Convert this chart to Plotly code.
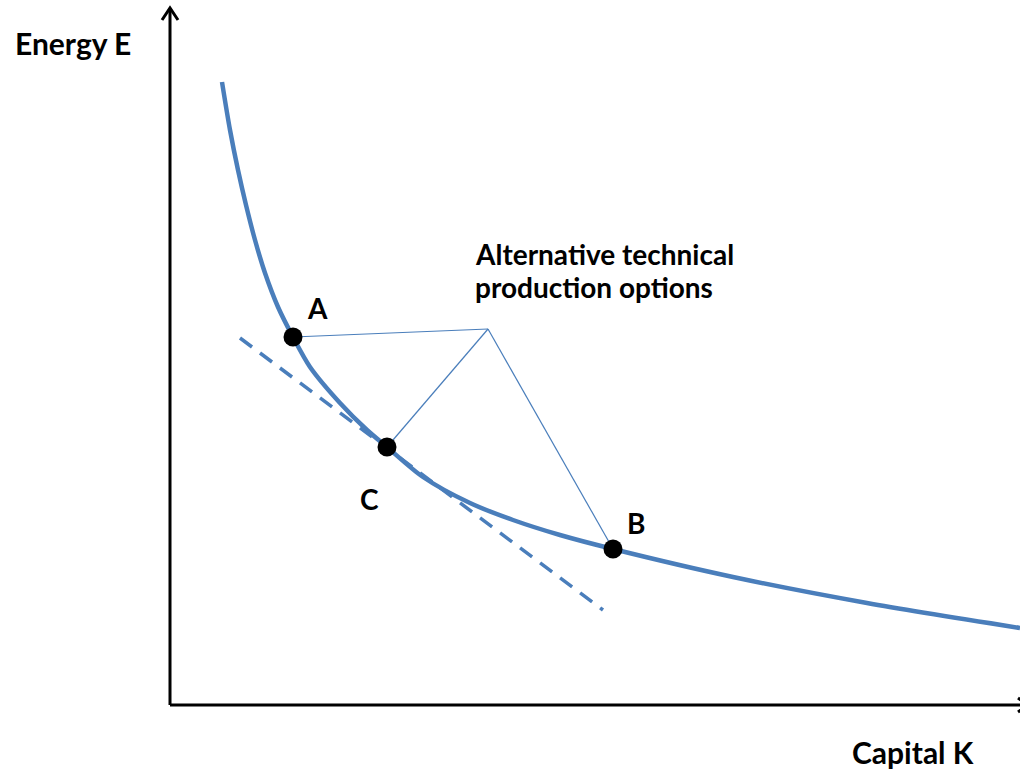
import plotly.graph_objects as go

# Isoquant curve (capital K, energy E)
curve_k = [52, 60, 68, 76, 85, 95, 108, 123, 140, 170, 197, 217, 253, 300, 343, 390, 443, 563, 697, 850]
curve_e = [623, 575, 535, 500, 465, 432, 398, 368, 338, 302, 275, 258, 228, 202, 185, 170, 156, 128, 102, 77]

# Points on the isoquant
point_names = ["A", "C", "B"]
point_k = [123, 217, 443]
point_e = [368, 258, 156]

# Tangent (dashed) line at C
tangent_k = [70, 433]
tangent_e = [367, 95]

# Hub of the "Alternative technical production options" connectors
hub_k = 318
hub_e = 376
label_lines = ["Alternative technical", "production options"]

FONT = "Lato, Carlito, 'Open Sans', sans-serif"
BLUE = "#4a7ebb"

fig = go.Figure()

# Axes with arrows
fig.add_trace(go.Scatter(
    x=[0, 0, None, -8, 0, 8, None, 0, 860, None, 848, 858, 848],
    y=[697, 0, None, 685, 697, 685, None, 0, 0, None, 7, 0, -7],
    mode="lines", line=dict(color="black", width=3), hoverinfo="skip"))

# Curve
fig.add_trace(go.Scatter(x=curve_k, y=curve_e, mode="lines",
                         line=dict(color=BLUE, width=4.5, shape="spline", smoothing=0.8),
                         hoverinfo="skip"))

# Tangent dashed
fig.add_trace(go.Scatter(x=tangent_k, y=tangent_e, mode="lines",
                         line=dict(color=BLUE, width=3.5, dash="15px,10px"), hoverinfo="skip"))

# Connectors
cx, cy = [], []
for k, e in zip(point_k, point_e):
    cx += [hub_k, k, None]
    cy += [hub_e, e, None]
fig.add_trace(go.Scatter(x=cx, y=cy, mode="lines", line=dict(color=BLUE, width=1.2), hoverinfo="skip"))

# Points
fig.add_trace(go.Scatter(x=point_k, y=point_e, mode="markers",
                         marker=dict(color="black", size=19), hoverinfo="skip"))

label_offsets = {"A": (24, 29), "C": (-18, -52), "B": (23, 26)}
for name, k, e in zip(point_names, point_k, point_e):
    dx, dy = label_offsets[name]
    fig.add_annotation(x=k + dx, y=e + dy, text=name, showarrow=False, xanchor="center", yanchor="middle",
                       font=dict(family=FONT, size=28, color="black", weight="bold"))

for i, line in enumerate(label_lines):
    fig.add_annotation(x=303, y=451 - 33 * i, text=line, showarrow=False, xanchor="left", yanchor="middle",
                       font=dict(family=FONT, size=28, color="black", weight="bold"))

fig.add_annotation(x=-157, y=662, text="Energy E", showarrow=False, xanchor="left", yanchor="middle",
                   font=dict(family=FONT, size=30, color="black", weight="bold"))
fig.add_annotation(x=680, y=-47, text="Capital K", showarrow=False, xanchor="left", yanchor="middle",
                   font=dict(family=FONT, size=30, color="black", weight="bold"))

fig.update_layout(width=1020, height=771, margin=dict(l=0, r=0, t=0, b=0), showlegend=False,
                  plot_bgcolor="white", paper_bgcolor="white")
fig.update_xaxes(range=[-170, 850], visible=False, fixedrange=True)
fig.update_yaxes(range=[-66, 705], visible=False, fixedrange=True)
fig.write_html("out.html", config={"displayModeBar": False},
               post_script="document.body.style.margin='0';document.body.style.overflow='hidden';")
